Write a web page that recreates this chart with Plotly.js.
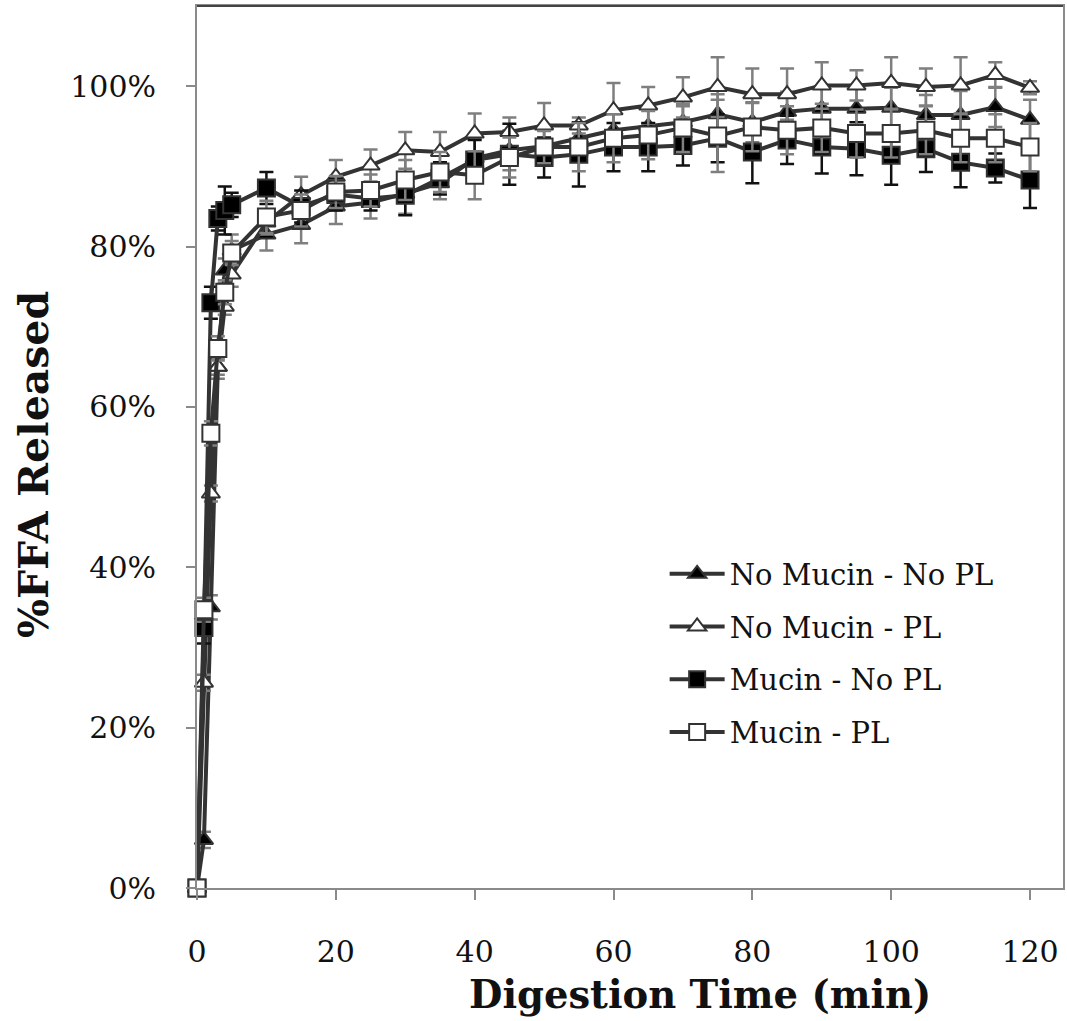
<!DOCTYPE html>
<html>
<head>
<meta charset="utf-8">
<script src="https://cdn.plot.ly/plotly-3.0.1.min.js"></script>
<style>html,body{margin:0;padding:0;background:#fff;}#chart{width:1067px;height:1021px;}</style>
</head>
<body>
<div id="chart"></div>
<script>
// Digestion time (min)
const time = [0, 1, 2, 3, 4, 5, 10, 15, 20, 25, 30, 35, 40, 45, 50, 55, 60, 65, 70, 75, 80, 85, 90, 95, 100, 105, 110, 115, 120];

// %FFA released
const noMucinNoPL = [0, 6, 35, 65, 77, 79.5, 81.5, 82.7, 85, 85.5, 86.6, 87.9, 91, 92, 92.5, 93.5, 94.5, 95, 95.5, 96.5, 95.5, 96.8, 97.2, 97.2, 97.3, 96.4, 96.4, 97.4, 95.8];
const noMucinPL   = [0, 25.6, 49.2, 65, 72.5, 76.5, 83, 86.4, 88.7, 90.1, 92, 91.8, 94.1, 94.3, 95.1, 95.1, 97, 97.6, 98.6, 99.9, 99, 99, 100.1, 100.1, 100.4, 99.9, 100.1, 101.4, 99.8];
const mucinNoPL   = [0, 32.5, 73, 83.5, 84.5, 85.2, 87.3, 85, 86.5, 86, 86.4, 88.5, 90.8, 91.5, 91.1, 91.5, 92.4, 92.4, 92.6, 93.5, 91.8, 93.3, 92.4, 92.2, 91.4, 92.2, 90.5, 89.8, 88.3];
const mucinPL     = [0, 34.7, 56.7, 67.3, 74.3, 79.2, 83.7, 84.5, 86.8, 87, 88.3, 89.3, 88.9, 91.1, 92.4, 92.4, 93.5, 93.9, 94.8, 93.8, 94.9, 94.5, 94.8, 94.1, 94.1, 94.5, 93.5, 93.5, 92.4];

// error (± %)
const errNoMucinNoPL = [0.5, 1, 1.5, 1.5, 1.5, 2, 2, 2.3, 2.2, 2, 2.5, 2, 2.5, 2.5, 2, 2, 2.5, 2.5, 2, 2.5, 2.5, 2.5, 2.5, 2.5, 2.5, 2.5, 3, 2.5, 2.5];
const errNoMucinPL   = [0, 1, 1, 1, 1, 1.5, 1.5, 2.3, 2.1, 2, 2.3, 2.5, 2.5, 1.8, 2.8, 1, 3.4, 2.3, 2.5, 3.7, 3.2, 3.2, 2.9, 1.9, 3.2, 2.3, 3.5, 1.6, 0.8];
const errMucinNoPL   = [0, 2, 2, 1.5, 3, 1.5, 2, 2, 2, 1.5, 2.5, 2, 2.5, 3.8, 2.5, 4, 3, 3, 2.5, 3, 3.9, 3, 3.3, 3.3, 3.7, 2.9, 3.1, 1.8, 3.5];
const errMucinPL     = [0, 1.5, 1.5, 1.5, 1.5, 1.5, 2, 2, 2, 2, 2.5, 2.5, 3, 2.5, 2, 3, 3, 3, 3, 4.5, 3, 3, 3, 3, 3, 3, 3, 3, 3];

const seriesNames = ["No Mucin - No PL", "No Mucin - PL", "Mucin - No PL", "Mucin - PL"];
const xTitle = "Digestion Time (min)";
const yTitle = "%FFA Released";

const lineColor = "#333333";
function mk(name, y, err, symbol, fill, size, errColor, group) {
  return {
    type: "scatter", mode: "lines+markers", name: name, x: time, y: y,
    legendgroup: group, cliponaxis: false,
    line: {color: lineColor, width: 4},
    marker: {symbol: symbol, size: size, color: fill, line: {color: lineColor, width: 2}},
    error_y: {type: "data", array: err, visible: true, color: errColor, thickness: 2.5, width: 7}
  };
}

const data = [
  mk(seriesNames[0], noMucinNoPL, errNoMucinNoPL, "triangle-up", "#000000", 16, "#7f7f7f", "a"),
  mk(seriesNames[1], noMucinPL, errNoMucinPL, "triangle-up", "#ffffff", 16, "#7f7f7f", "b"),
  mk(seriesNames[2], mucinNoPL, errMucinNoPL, "square", "#000000", 17, "#111111", "c"),
  mk(seriesNames[3], mucinPL, errMucinPL, "square", "#ffffff", 17, "#7f7f7f", "d")
];

const tickFont = {family: "DejaVu Serif", size: 30, color: "#111"};
const layout = {
  width: 1067, height: 1021,
  margin: {l: 197, r: 4, t: 6, b: 133, pad: 0},
  paper_bgcolor: "#fff", plot_bgcolor: "#fff",
  showlegend: true,
  legend: {
    x: 0.54, y: 0.385, xanchor: "left", yanchor: "top",
    font: {family: "DejaVu Serif", size: 29, color: "#111"},
    bgcolor: "rgba(0,0,0,0)", itemwidth: 55, tracegroupgap: 12
  },
  xaxis: {
    range: [0, 124.75], tickmode: "linear", tick0: 0, dtick: 20,
    showgrid: false, zeroline: false,
    showline: true, mirror: true, linecolor: "#8a8a8a", linewidth: 2,
    ticks: "outside", ticklen: 10, tickwidth: 2, tickcolor: "#8a8a8a",
    tickfont: tickFont, ticklabelstandoff: 26
  },
  yaxis: {
    range: [0, 110], tickmode: "linear", tick0: 0, dtick: 20, ticksuffix: "%",
    showgrid: false, zeroline: false,
    showline: true, mirror: true, linecolor: "#8a8a8a", linewidth: 2,
    ticks: "outside", ticklen: 9, tickwidth: 2, tickcolor: "#8a8a8a",
    tickfont: tickFont, ticklabelstandoff: 24
  },
  shapes: [
    {type: "line", xref: "paper", yref: "paper", x0: 0, x1: 1, y0: 1, y1: 1, line: {color: "#444", width: 2}}
  ],
  annotations: [
    {text: "<b>" + xTitle + "</b>", xref: "paper", yref: "paper", x: 0.581, y: -0.121,
     xanchor: "center", yanchor: "middle", showarrow: false,
     font: {family: "DejaVu Serif", size: 38.5, color: "#111"}},
    {text: "<b>" + yTitle + "</b>", xref: "paper", yref: "paper", x: -0.189, y: 0.48,
     xanchor: "center", yanchor: "middle", showarrow: false, textangle: -90,
     font: {family: "DejaVu Serif", size: 41, color: "#111"}}
  ]
};

Plotly.newPlot("chart", data, layout, {displayModeBar: false, staticPlot: true});
</script>
</body>
</html>
